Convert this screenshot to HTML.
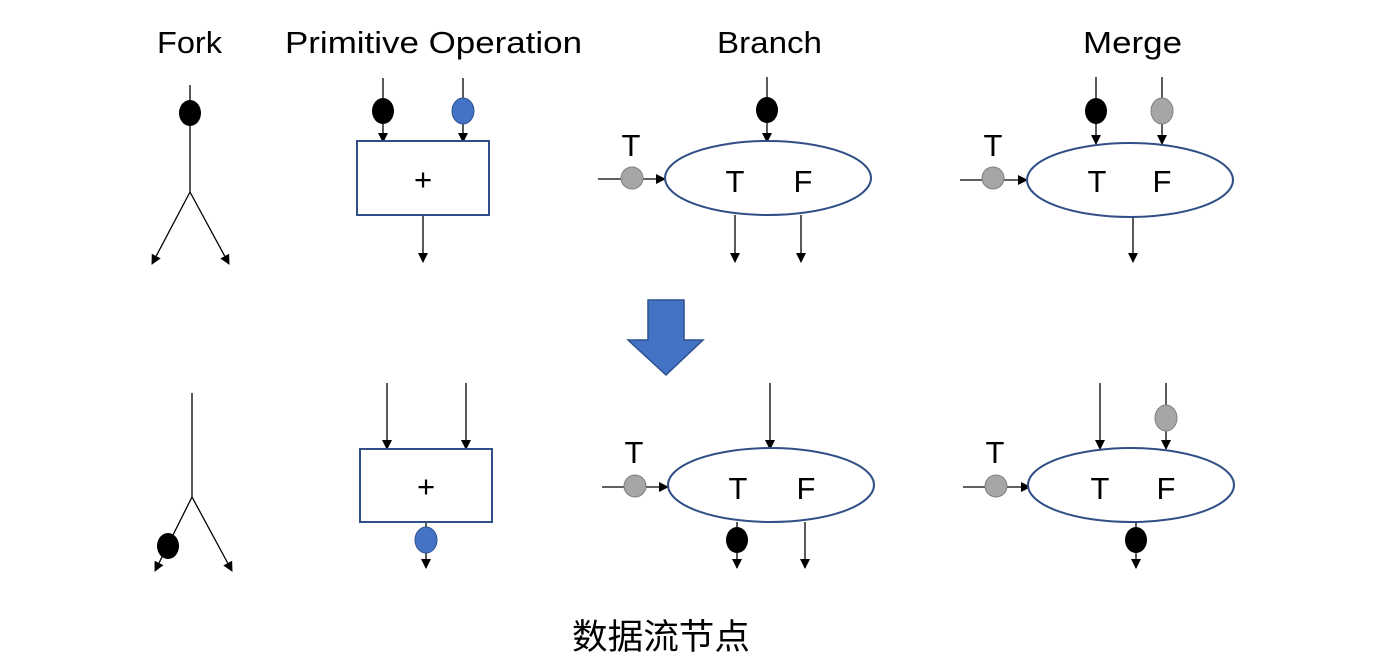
<!DOCTYPE html>
<html><head><meta charset="utf-8"><style>
html,body{margin:0;padding:0;background:#fff;width:1375px;height:672px;overflow:hidden}
text{font-family:"Liberation Sans","Noto Sans CJK SC",sans-serif;fill:#000}
</style></head><body>
<svg width="1375" height="672" viewBox="0 0 1375 672" xmlns="http://www.w3.org/2000/svg">
<defs>
<marker id="a" markerWidth="10" markerHeight="10" refX="9" refY="5" orient="auto" markerUnits="userSpaceOnUse"><path d="M0,0 L10,5 L0,10 z" fill="#000"/></marker>
</defs>
<g font-size="31">
<text x="157" y="53" textLength="65" lengthAdjust="spacingAndGlyphs">Fork</text>
<text x="285" y="53" textLength="297" lengthAdjust="spacingAndGlyphs">Primitive Operation</text>
<text x="717" y="53" textLength="105" lengthAdjust="spacingAndGlyphs">Branch</text>
<text x="1083" y="53" textLength="99" lengthAdjust="spacingAndGlyphs">Merge</text>
</g>
<g stroke="#000" stroke-width="1.3" fill="none">
<line x1="190" y1="85" x2="190" y2="192"/>
<line x1="190" y1="192" x2="152" y2="264" marker-end="url(#a)"/>
<line x1="190" y1="192" x2="229" y2="264" marker-end="url(#a)"/>
<line x1="383" y1="78" x2="383" y2="142" marker-end="url(#a)"/>
<line x1="463" y1="78" x2="463" y2="142" marker-end="url(#a)"/>
<line x1="423" y1="215" x2="423" y2="262" marker-end="url(#a)"/>
<line x1="767" y1="77" x2="767" y2="142" marker-end="url(#a)"/>
<line x1="598" y1="179" x2="665" y2="179" marker-end="url(#a)"/>
<line x1="735" y1="215" x2="735" y2="262" marker-end="url(#a)"/>
<line x1="801" y1="215" x2="801" y2="262" marker-end="url(#a)"/>
<line x1="1096" y1="77" x2="1096" y2="144" marker-end="url(#a)"/>
<line x1="1162" y1="77" x2="1162" y2="144" marker-end="url(#a)"/>
<line x1="960" y1="180" x2="1027" y2="180" marker-end="url(#a)"/>
<line x1="1133" y1="216" x2="1133" y2="262" marker-end="url(#a)"/>
<line x1="192" y1="393" x2="192" y2="497"/>
<line x1="192" y1="497" x2="155" y2="571" marker-end="url(#a)"/>
<line x1="192" y1="497" x2="232" y2="571" marker-end="url(#a)"/>
<line x1="387" y1="383" x2="387" y2="449" marker-end="url(#a)"/>
<line x1="466" y1="383" x2="466" y2="449" marker-end="url(#a)"/>
<line x1="426" y1="522" x2="426" y2="568" marker-end="url(#a)"/>
<line x1="770" y1="383" x2="770" y2="449" marker-end="url(#a)"/>
<line x1="602" y1="487" x2="668" y2="487" marker-end="url(#a)"/>
<line x1="737" y1="522" x2="737" y2="568" marker-end="url(#a)"/>
<line x1="805" y1="522" x2="805" y2="568" marker-end="url(#a)"/>
<line x1="1100" y1="383" x2="1100" y2="449" marker-end="url(#a)"/>
<line x1="1166" y1="383" x2="1166" y2="449" marker-end="url(#a)"/>
<line x1="963" y1="487" x2="1030" y2="487" marker-end="url(#a)"/>
<line x1="1136" y1="522" x2="1136" y2="568" marker-end="url(#a)"/>
</g>
<g stroke="#2f4f86" stroke-width="2" fill="#fff">
<rect x="357" y="141" width="132" height="74"/>
<ellipse cx="768" cy="178" rx="103" ry="37"/>
<ellipse cx="1130" cy="180" rx="103" ry="37"/>
<rect x="360" y="449" width="132" height="73"/>
<ellipse cx="771" cy="485" rx="103" ry="37"/>
<ellipse cx="1131" cy="485" rx="103" ry="37"/>
</g>
<g>
<ellipse cx="190" cy="113" rx="11" ry="13" fill="#000"/>
<ellipse cx="383" cy="111" rx="11" ry="13" fill="#000"/>
<ellipse cx="463" cy="111" rx="11" ry="13" fill="#4472c4" stroke="#2f528f"/>
<ellipse cx="767" cy="110" rx="11" ry="13" fill="#000"/>
<ellipse cx="632" cy="178" rx="11" ry="11" fill="#a6a6a6" stroke="#7f7f7f"/>
<ellipse cx="1096" cy="111" rx="11" ry="13" fill="#000"/>
<ellipse cx="1162" cy="111" rx="11" ry="13" fill="#a6a6a6" stroke="#7f7f7f"/>
<ellipse cx="993" cy="178" rx="11" ry="11" fill="#a6a6a6" stroke="#7f7f7f"/>
<ellipse cx="168" cy="546" rx="11" ry="13" fill="#000"/>
<ellipse cx="426" cy="540" rx="11" ry="13" fill="#4472c4" stroke="#2f528f"/>
<ellipse cx="635" cy="486" rx="11" ry="11" fill="#a6a6a6" stroke="#7f7f7f"/>
<ellipse cx="737" cy="540" rx="11" ry="13" fill="#000"/>
<ellipse cx="1166" cy="418" rx="11" ry="13" fill="#a6a6a6" stroke="#7f7f7f"/>
<ellipse cx="996" cy="486" rx="11" ry="11" fill="#a6a6a6" stroke="#7f7f7f"/>
<ellipse cx="1136" cy="540" rx="11" ry="13" fill="#000"/>
</g>
<g font-size="31" text-anchor="middle">
<text x="423" y="190">+</text>
<text x="631" y="156">T</text>
<text x="735" y="192">T</text>
<text x="803" y="192">F</text>
<text x="993" y="156">T</text>
<text x="1097" y="192">T</text>
<text x="1162" y="192">F</text>
<text x="426" y="497">+</text>
<text x="634" y="463">T</text>
<text x="738" y="499">T</text>
<text x="806" y="499">F</text>
<text x="995" y="463">T</text>
<text x="1100" y="499">T</text>
<text x="1166" y="499">F</text>
</g>
<polygon points="648,300 684,300 684,340 703,340 666,375 628,340 648,340" fill="#4472c4" stroke="#2f528f" stroke-width="1.5"/>
<text x="572" y="649" font-size="35" textLength="178" lengthAdjust="spacingAndGlyphs">数据流节点</text>
</svg>
</body></html>
